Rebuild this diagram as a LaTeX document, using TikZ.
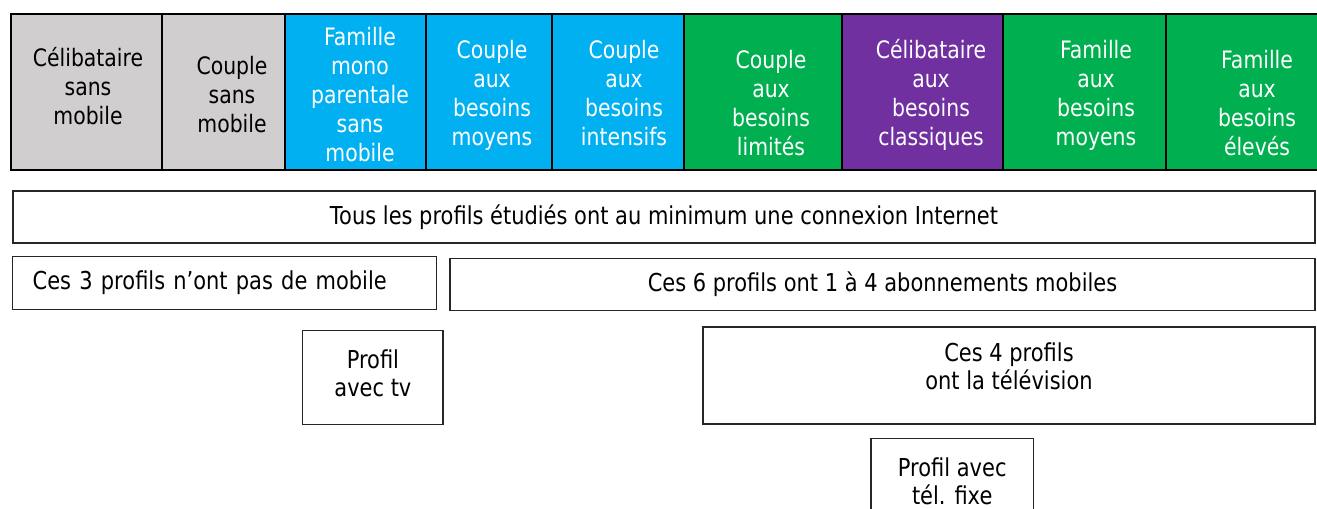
\documentclass[tikz,border=0pt]{standalone}
\usepackage{fontspec}
\setmainfont{DejaVu Sans}[FakeStretch=0.85]
\usetikzlibrary{positioning}
\definecolor{grisprofil}{HTML}{D0CECE}
\definecolor{bleuprofil}{HTML}{00B0F0}
\definecolor{vertprofil}{HTML}{00B050}
\definecolor{violetprofil}{HTML}{7030A0}
\newlength\pxu
\setlength\pxu{0.75pt}
\tikzset{
  profil/.style={draw=black, line width=1.8pt},
  txtprofil/.style={align=center, inner sep=0pt, font=\fontsize{18}{21.75}\selectfont},
  cadre/.style={draw=black!85, line width=1.1pt, align=center, inner sep=0pt, font=\fontsize{18.5}{21}\selectfont},
}

\begin{document}
\begin{tikzpicture}[x=0.75pt, y=-0.75pt] % profils et leurs equipements
	\useasboundingbox (0,0) rectangle (1317,508);
	% Ligne des profils
	\draw[profil, fill=grisprofil] (11,14) rectangle (162,170);
	\draw[profil, fill=grisprofil] (162,14) rectangle (285,170);
	\draw[profil, fill=bleuprofil] (285,14) rectangle (426,170);
	\draw[profil, fill=bleuprofil] (426,14) rectangle (552,170);
	\draw[profil, fill=bleuprofil] (552,14) rectangle (684,170);
	\draw[profil, fill=vertprofil] (684,14) rectangle (842,170);
	\draw[profil, fill=violetprofil] (842,14) rectangle (1003,170);
	\draw[profil, fill=vertprofil] (1003,14) rectangle (1166,170);
	\draw[profil, fill=vertprofil] (1166,14) rectangle (1325,170);
	% Noms des profils
	\node[txtprofil] (celibSM) at (88,86) {Célibataire\\sans\\mobile};
	\node[txtprofil] (coupleSM) at (232,94.5) {Couple\\sans\\mobile};
	\node[txtprofil, white] (familleMP) at (360,94.5) {Famille\\mono\\parentale\\sans\\mobile};
	\node[txtprofil, white] (coupleBM) at (492,95) {Couple\\aux\\besoins\\moyens};
	\node[txtprofil, white] (coupleBI) at (624,93.5) {Couple\\aux\\besoins\\intensifs};
	\node[txtprofil, white] (coupleBL) at (771,103) {Couple\\aux\\besoins\\limités};
	\node[txtprofil, white] (celibBC) at (931,95) {Célibataire\\aux\\besoins\\classiques};
	\node[txtprofil, white] (familleBM) at (1096,95) {Famille\\aux\\besoins\\moyens};
	\node[txtprofil, white] (familleBE) at (1257,103) {Famille\\aux\\besoins\\élevés};
	% Equipements
	\node[cadre, minimum width=1302\pxu, minimum height=52\pxu] (internet) at (664,217) {Tous les profils étudiés ont au minimum une connexion Internet};
	\node[cadre, text width=384\pxu, inner xsep=20\pxu, minimum height=52.6\pxu, align=left] (sansmobile) at (224.7,283) {Ces 3 profils n’ont pas de mobile};
	\node[cadre, minimum width=865\pxu, minimum height=52\pxu] (mobiles) at (882.5,284.4) {Ces 6 profils ont 1 à 4 abonnements mobiles};
	\node[cadre, minimum width=140.3\pxu, minimum height=93.6\pxu] (avectv) at (372.9,377.5) {Profil\\avec tv\rule[-6pt]{0pt}{0pt}};
	\node[cadre, minimum width=612\pxu, minimum height=97\pxu] (television) at (1009,375.3) {Ces 4 profils\\ont la télévision\rule[-13.5pt]{0pt}{0pt}};
	\node[cadre, minimum width=162.3\pxu, minimum height=86\pxu] (telfixe) at (952.2,481.3) {Profil avec\\tél. fixe};
\end{tikzpicture}
\end{document}
